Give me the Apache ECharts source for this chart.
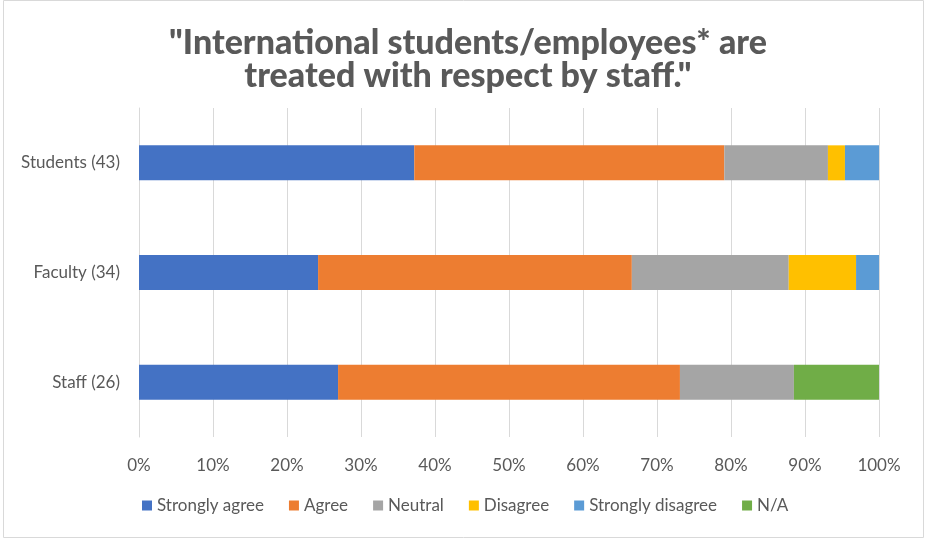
<!DOCTYPE html>
<html>
<head>
<meta charset="utf-8">
<script src="https://cdn.jsdelivr.net/npm/echarts@6/dist/echarts.min.js"></script>
<style>
  html, body { margin: 0; padding: 0; background: #fff; }
  #chart { width: 925px; height: 539px; }
</style>
</head>
<body>
<div id="chart"></div>
<script>
// categories, bottom to top as ECharts draws them
const groups = ['Staff (26)', 'Faculty (34)', 'Students (43)']

const stronglyAgree = [26.9, 24.2, 37.2]
const agree = [46.2, 42.4, 41.9]
const neutral = [15.4, 21.2, 14.0]
const disagree = [0, 9.1, 2.3]
const stronglyDisagree = [0, 3.1, 4.7]
const notApplicable = [11.5, 0, 0]

const seriesNames = ['Strongly agree', 'Agree', 'Neutral', 'Disagree', 'Strongly disagree', 'N/A']
const seriesColors = ['#4472c4', '#ed7d31', '#a5a5a5', '#ffc000', '#5b9bd5', '#70ad47']
const seriesData = [stronglyAgree, agree, neutral, disagree, stronglyDisagree, notApplicable]

const chart = echarts.init(document.getElementById('chart'))

const labelFont = 'Lato, "Noto Sans", sans-serif'

chart.setOption({
  animation: false,
  title: {
    text: '"International students/employees* are\ntreated with respect by staff."',
    left: 463,
    top: 22,
    textAlign: 'center',
    textStyle: {
      fontFamily: 'Lato, "Open Sans", sans-serif',
      fontWeight: 900,
      fontSize: 34,
      lineHeight: 33,
      color: '#595959'
    }
  },
  graphic: [{
    type: 'rect',
    shape: { x: 3.5, y: 0.5, width: 920, height: 537 },
    style: { fill: 'none', stroke: '#d9d9d9', lineWidth: 1 },
    silent: true
  }],
  legend: {
    top: 492,
    left: 137,
    itemWidth: 10,
    itemHeight: 10,
    itemGap: 25,
    icon: 'rect',
    textStyle: { fontFamily: labelFont, fontSize: 17, color: '#595959' },
    data: seriesNames
  },
  grid: { left: 139, right: 46, top: 108, bottom: 102 },
  xAxis: {
    type: 'value',
    min: 0,
    max: 100,
    interval: 10,
    axisLabel: {
      formatter: '{value}%',
      fontFamily: labelFont,
      fontSize: 17,
      color: '#595959',
      margin: 20
    },
    axisLine: { show: false },
    axisTick: { show: false },
    splitLine: { lineStyle: { color: '#d9d9d9', width: 1 } }
  },
  yAxis: {
    type: 'category',
    data: groups,
    axisLabel: {
      fontFamily: labelFont,
      fontSize: 17,
      color: '#595959',
      margin: 19
    },
    axisLine: { lineStyle: { color: '#d9d9d9' } },
    axisTick: { show: false }
  },
  series: seriesNames.map((name, i) => ({
    name,
    type: 'bar',
    stack: 'total',
    barWidth: 35,
    itemStyle: { color: seriesColors[i] },
    data: seriesData[i]
  }))
})
</script>
</body>
</html>
